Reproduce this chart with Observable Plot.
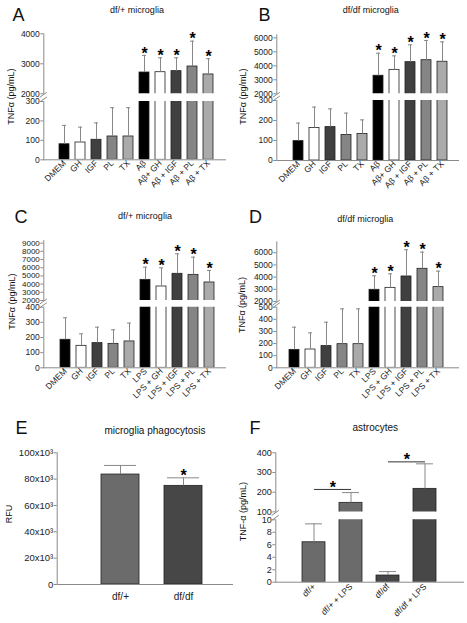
<!DOCTYPE html>
<html><head><meta charset="utf-8">
<script src="https://cdn.jsdelivr.net/npm/d3@7"></script>
<script src="https://cdn.jsdelivr.net/npm/@observablehq/plot@0.6"></script>
<style>
body{margin:0;background:#fff;}
#fig{position:relative;width:467px;height:623px;overflow:hidden;background:#fff;}
#fig svg{position:absolute;left:0;top:0;}
</style></head><body><div id="fig"></div>
<script>
const W = 467, H = 623;
const FONT = '"Liberation Sans", Arial, sans-serif';

// ---------- DATA ----------
const catsAB = ["DMEM","GH","IGF","PL","TX","Aβ","Aβ+ GH","Aβ + IGF","Aβ + PL","Aβ + TX"];
const catsCD = ["DMEM","GH","IGF","PL","TX","LPS","LPS + GH","LPS + IGF","LPS + PL","LPS + TX"];
const fillsTNF = ["#000000","#ffffff","#404040","#858585","#aaaaaa","#000000","#ffffff","#404040","#858585","#aaaaaa"];
const sigTNF = [0,0,0,0,0,1,1,1,1,1];

const meanA = [80, 89, 103, 120, 120, 2710, 2720, 2755, 2910, 2645];
const errA  = [177, 168, 190, 268, 268, 3280, 3200, 3200, 3755, 3170];
const meanB = [97, 163, 167, 128, 133, 3290, 3710, 4260, 4400, 4290];
const errB  = [187, 267, 258, 237, 203, 4900, 4710, 5500, 5810, 5710];
const meanC = [185, 145, 163, 158, 174, 4520, 3710, 5260, 5130, 4200];
const errC  = [330, 224, 268, 251, 295, 6070, 5990, 7700, 7290, 5660];
const meanD = [148, 151, 179, 195, 195, 2960, 3120, 4055, 4685, 3180];
const errD  = [335, 288, 376, 486, 486, 4110, 4275, 6250, 6055, 4490];

const ticksAUp = [2000, 3000, 4000];
const ticksALo = [0, 100, 200, 300];
const ticksBUp = [2000, 3000, 4000, 5000, 6000];
const ticksBLo = [0, 100, 200, 300];
const ticksCUp = [2000, 3000, 4000, 5000, 6000, 7000, 8000, 9000];
const ticksCLo = [0, 100, 200, 300, 400];
const ticksDUp = [2000, 3000, 4000, 5000, 6000];
const ticksDLo = [0, 100, 200, 300, 400, 500];

const catsE = ["df/+", "df/df"];
const meanE = [83500, 74900];
const errE  = [90400, 81000];
const sigE  = [0, 1];
const fillsE = ["#6b6b6b", "#474747"];
const ticksE = [0, 20000, 40000, 60000, 80000, 100000];

const catsF = ["df/+", "df/+ + LPS", "df/df", "df/df + LPS"];
const meanF = [6.4, 146, 1.07, 217];
const errF  = [9.35, 198, 1.7, 344];
const fillsF = ["#6b6b6b", "#6b6b6b", "#474747", "#474747"];
const ticksFUp = [100, 200, 300, 400];
const ticksFLo = [0, 2, 4, 6, 8, 10];
const bracketFrom = ["df/+", "df/df"];
const bracketTo   = ["df/+ + LPS", "df/df + LPS"];
const bracketY    = [214, 354];

// ---------- HELPERS ----------
const fig = document.getElementById("fig");
const plain = d => String(d);

function seg({frame, cats, rangeX, pad, yDomain, yTicks, yFmt = plain, tickFont = 8.5, marks, xAxis = false, xRotate = -45, xFont = 8.5, xPad = 2}) {
  const [x0, y0, x1, y1] = frame;
  const m = [...marks];
  m.push(Plot.frame({anchor: "left", stroke: "#8a8a8a"}));
  m.push(Plot.axisY({ticks: yTicks, tickFormat: yFmt, tickSize: 3, tickPadding: 1, stroke: "#8a8a8a", fontSize: tickFont, label: null}));
  if (xAxis) {
    m.push(Plot.frame({anchor: "bottom", stroke: "#8a8a8a"}));
    m.push(Plot.axisX({tickSize: 0, tickPadding: xPad, tickRotate: xRotate, fontSize: xFont, label: null}));
  }
  const xs = {type: "band", domain: cats, range: rangeX, paddingInner: pad, paddingOuter: pad / 2};
  if (!xAxis) xs.axis = null;
  const p = Plot.plot({
    width: W, height: H,
    marginLeft: x0, marginRight: W - x1, marginTop: y0, marginBottom: H - y1,
    style: {background: "transparent", fontFamily: FONT, overflow: "visible", maxWidth: "none", color: "#222"},
    x: xs,
    y: {domain: yDomain},
    color: {type: "identity"},
    marks: m
  });
  fig.appendChild(p);
  return p;
}

function barMarks(data, clip) {
  return [
    Plot.barY(data, {x: "c", y: "m", fill: "f", stroke: "#222", strokeWidth: 0.8, clip}),
    Plot.ruleX(data, {x: "c", y1: "m", y2: "e", stroke: "#888", strokeWidth: 1, clip}),
    Plot.tickY(data, {x: "c", y: "e", stroke: "#888", strokeWidth: 1, insetLeft: 3, insetRight: 3, clip})
  ];
}
function starMarks(data) {
  return Plot.text(data.filter(d => d.s), {x: "c", y: "e", text: () => "*", fontSize: 16, fontWeight: "bold", fill: "#000", lineAnchor: "middle", dy: -2});
}

const breaks = [];

function tnfPanel({cats, mean, err, ax, right, rangeX, up, lo}) {
  const data = cats.map((c, i) => ({c, m: mean[i], e: err[i], s: sigTNF[i], f: fillsTNF[i]}));
  seg({frame: [ax, up.y0, right, up.y1], cats, rangeX, pad: 0.36, yDomain: up.domain, yTicks: up.ticks,
       tickFont: up.font || 8.5, marks: [...barMarks(data, true), starMarks(data)]});
  seg({frame: [ax, lo.y0, right, lo.y1], cats, rangeX, pad: 0.36, yDomain: lo.domain, yTicks: lo.ticks,
       marks: barMarks(data, true), xAxis: true});
  breaks.push([ax, up.y1, lo.y0]);
}

// ---------- PANELS A-D ----------
tnfPanel({cats: catsAB, mean: meanA, err: errA, ax: 43.3, right: 225, rangeX: [54.5, 218.2],
  up: {y0: 33.3, y1: 93.3, domain: [2000, 4000], ticks: ticksAUp},
  lo: {y0: 101, y1: 159.3, domain: [0, 300], ticks: ticksALo}});
tnfPanel({cats: catsAB, mean: meanB, err: errB, ax: 276.3, right: 458, rangeX: [288.1, 452.9],
  up: {y0: 34.5, y1: 93.3, domain: [2000, 6200], ticks: ticksBUp},
  lo: {y0: 100, y1: 160, domain: [0, 300], ticks: ticksBLo}});
tnfPanel({cats: catsCD, mean: meanC, err: errC, ax: 43.3, right: 225, rangeX: [55.1, 219],
  up: {y0: 240.2, y1: 300, domain: [2000, 9300], ticks: ticksCUp, font: 8},
  lo: {y0: 306.7, y1: 367.3, domain: [0, 400], ticks: ticksCLo}});
tnfPanel({cats: catsCD, mean: meanD, err: errD, ax: 276.3, right: 458, rangeX: [284.3, 448.2],
  up: {y0: 241.3, y1: 301, domain: [2000, 6900], ticks: ticksDUp},
  lo: {y0: 306.7, y1: 367.3, domain: [0, 500], ticks: ticksDLo}});

// ---------- PANEL E ----------
{
  const data = catsE.map((c, i) => ({c, m: meanE[i], e: errE[i], s: sigE[i], f: fillsE[i]}));
  seg({frame: [56.7, 452.3, 232, 584], cats: catsE, rangeX: [88.65, 214.85], pad: 0.39,
       yDomain: [0, 100000], yTicks: ticksE, yFmt: d => d === 0 ? "0" : `${d / 1000}x10³`, tickFont: 9.5,
       marks: [...barMarks(data, false), starMarks(data)], xAxis: true, xRotate: 0, xFont: 10, xPad: 8});
}

// ---------- PANEL F ----------
{
  const data = catsF.map((c, i) => ({c, m: meanF[i], e: errF[i], f: fillsF[i]}));
  const br = bracketFrom.map((a, i) => ({a, b: bracketTo[i], y: bracketY[i]}));
  const rangeF = [293.8, 444.9];
  const stepF = (rangeF[1] - rangeF[0]) / catsF.length;
  seg({frame: [275.3, 452.3, 463, 511.4], cats: catsF, rangeX: rangeF, pad: 0.38,
       yDomain: [100, 400], yTicks: ticksFUp, tickFont: 9,
       marks: [...barMarks(data, true),
         Plot.link(br, {x1: "a", x2: "b", y1: "y", y2: "y", stroke: "#333", strokeWidth: 1}),
         Plot.text(br, {x: "a", y: "y", text: () => "*", dx: stepF / 2, fontSize: 16, fontWeight: "bold", fill: "#000", lineAnchor: "middle", dy: -2})]});
  seg({frame: [275.3, 519.3, 463, 581.7], cats: catsF, rangeX: rangeF, pad: 0.38,
       yDomain: [0, 10], yTicks: ticksFLo, tickFont: 9,
       marks: barMarks(data, true), xAxis: true, xFont: 8.5, xPad: 3});
  breaks.push([275.3, 511.4, 519.3]);
}

// ---------- OVERLAY TEXT ----------
const ov = d3.select(fig).append("svg").attr("width", W).attr("height", H)
  .style("font-family", FONT).style("pointer-events", "none");

function txt(s, x, y, {size = 9, anchor = "middle", rot = 0, weight = "normal", baseline = null} = {}) {
  const t = ov.append("text").attr("transform", `translate(${x},${y}) rotate(${rot})`)
    .attr("text-anchor", anchor).attr("font-size", size).attr("font-weight", weight).attr("fill", "#111").text(s);
  if (baseline) t.attr("dominant-baseline", baseline);
}

// panel letters
txt("A", 12.5, 20.7, {size: 18, anchor: "start"});
txt("B", 258.5, 20.5, {size: 18, anchor: "start"});
txt("C", 14.5, 223.3, {size: 18, anchor: "start"});
txt("D", 249, 223.3, {size: 18, anchor: "start"});
txt("E", 15.5, 434.4, {size: 18, anchor: "start"});
txt("F", 249.5, 434.3, {size: 18, anchor: "start"});

// titles
txt("df/+ microglia", 137, 13.2, {size: 9});
txt("df/df microglia", 370.8, 13.2, {size: 9});
txt("df/+ microglia", 145, 219, {size: 9});
txt("df/df microglia", 365.3, 221.5, {size: 9});
txt("microglia phagocytosis", 155, 434, {size: 10});
txt("astrocytes", 375.3, 430.5, {size: 10});

// y labels
txt("TNFα (pg/mL)", 11, 96.7, {size: 9, rot: -90, baseline: "central"});
txt("TNFα (pg/mL)", 243, 96.7, {size: 9, rot: -90, baseline: "central"});
txt("TNFα (pg/mL)", 11.5, 301.7, {size: 9, rot: -90, baseline: "central"});
txt("TNFα (pg/mL)", 242, 305, {size: 9, rot: -90, baseline: "central"});
txt("RFU", 9, 514, {size: 9, rot: -90, baseline: "central"});
txt("TNF-α (pg/mL)", 243, 511.7, {size: 9, rot: -90, baseline: "central"});

// axis break marks
for (const [ax, gTop, gBot] of breaks) {
  for (const y of [gTop + 1.5, gBot - 1.5]) {
    ov.append("line").attr("x1", ax - 3.5).attr("y1", y + 2.5).attr("x2", ax + 3.5).attr("y2", y - 2.5)
      .attr("stroke", "#8a8a8a").attr("stroke-width", 1);
  }
}
</script>
</body></html>
